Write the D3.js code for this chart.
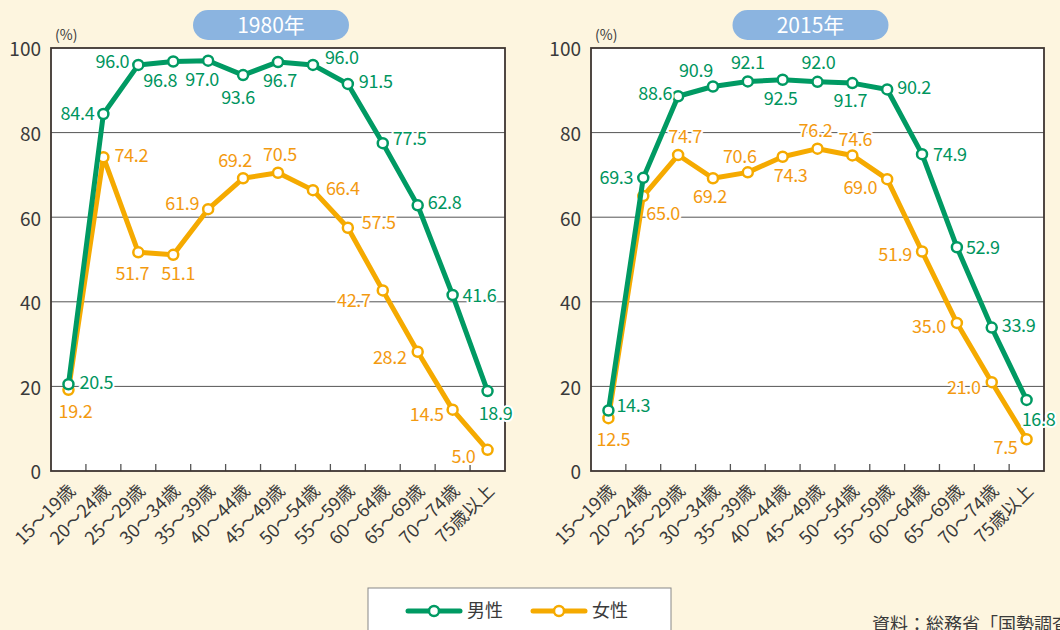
<!DOCTYPE html>
<html>
<head>
<meta charset="utf-8">
<script src="https://cdn.jsdelivr.net/npm/d3@7"></script>
<style>
    body { margin: 0; background: #fdf5df; }
    svg text { font-family: "Noto Sans CJK JP", "Noto Sans", sans-serif; }
</style>
</head>
<body>
<div id="chart"></div>
<script>
// age groups, shared by both panels
const ageGroups = ["15〜19歳", "20〜24歳", "25〜29歳", "30〜34歳", "35〜39歳", "40〜44歳",
    "45〜49歳", "50〜54歳", "55〜59歳", "60〜64歳", "65〜69歳", "70〜74歳", "75歳以上"];
const yTicks = [0, 20, 40, 60, 80, 100];
const years = ["1980年", "2015年"];
const seriesNames = ["男性", "女性"];

const male1980 = [20.5, 84.4, 96.0, 96.8, 97.0, 93.6, 96.7, 96.0, 91.5, 77.5, 62.8, 41.6, 18.9];
const female1980 = [19.2, 74.2, 51.7, 51.1, 61.9, 69.2, 70.5, 66.4, 57.5, 42.7, 28.2, 14.5, 5.0];
const male2015 = [14.3, 69.3, 88.6, 90.9, 92.1, 92.5, 92.0, 91.7, 90.2, 74.9, 52.9, 33.9, 16.8];
const female2015 = [12.5, 65.0, 74.7, 69.2, 70.6, 74.3, 76.2, 74.6, 69.0, 51.9, 35.0, 21.0, 7.5];

const sourceNote = "資料：総務省「国勢調査」";

// label placement per point: [dx, dy, anchor]  (s=start, m=middle, e=end)
const lblMale1980 = [[11,-2,"s"],[-9,0,"e"],[-9,-3,"e"],[-13,19,"m"],[-6,19,"m"],[-5,22,"m"],[2,19,"m"],
    [12,-7,"s"],[11,-2,"s"],[10,-5,"s"],[10,-3,"s"],[10,0,"s"],[8,22,"m"]];
const lblFemale1980 = [[7,22,"m"],[11,-2,"s"],[-6,21,"m"],[5,19,"m"],[-9,-6,"e"],[-8,-18,"m"],[2,-18,"m"],
    [13,-2,"s"],[14,-5,"s"],[-12,10,"e"],[-11,6,"e"],[-9,5,"e"],[-12,7,"e"]];
const lblMale2015 = [[8,-5,"s"],[-10,0,"e"],[-6,-3,"e"],[-17,-16,"m"],[0,-19,"m"],[-2,19,"m"],[1,-19,"m"],
    [-2,17,"m"],[10,-2,"s"],[11,0,"s"],[9,0,"s"],[10,-2,"s"],[12,20,"m"]];
const lblFemale2015 = [[5,21,"m"],[3,17,"s"],[7,-18,"m"],[-3,18,"m"],[-8,-16,"m"],[8,19,"m"],[-2,-18,"m"],
    [3,-16,"m"],[-10,8,"e"],[-10,3,"e"],[-11,4,"e"],[-11,5,"e"],[-9,8,"e"]];

const GREEN = "#009a63", ORANGE = "#f5aa00";
const GREEN_TXT = "#00955e", ORANGE_TXT = "#f39a10";
const anchors = {s: "start", m: "middle", e: "end"};

const svg = d3.select("#chart").append("svg")
    .attr("width", 1060).attr("height", 630);

svg.append("rect").attr("width", 1060).attr("height", 630).attr("fill", "#fdf5df");

function drawPanel(left, right, year, male, female, lblM, lblF) {
    const top = 48, bottom = 471;
    const x = d3.scaleBand().domain(ageGroups).range([left, right]).padding(0);
    const y = d3.scaleLinear().domain([0, 100]).range([bottom, top]);
    const cx = d => x(d) + x.bandwidth() / 2;
    const g = svg.append("g");

    // title pill
    const mid = (left + right) / 2;
    g.append("rect")
        .attr("x", mid - 85).attr("y", 10).attr("width", 156).attr("height", 30)
        .attr("rx", 15).attr("fill", "#8bb4e0");
    g.append("text")
        .attr("x", mid - 7).attr("y", 25).attr("dy", "0.36em")
        .attr("text-anchor", "middle").attr("fill", "#fff")
        .attr("font-size", 21).text(year);

    g.append("text")
        .attr("x", left + 4).attr("y", 35).attr("dy", "0.35em")
        .attr("font-size", 14).attr("fill", "#3a3a3a").text("(%)");

    // plot area
    g.append("rect")
        .attr("x", left).attr("y", top)
        .attr("width", right - left).attr("height", bottom - top)
        .attr("fill", "#fff");

    g.selectAll(".grid").data(yTicks.slice(1, -1)).join("line")
        .attr("x1", left).attr("x2", right)
        .attr("y1", d => y(d)).attr("y2", d => y(d))
        .attr("stroke", "#555").attr("stroke-width", 1);

    // inner ticks at band boundaries
    g.selectAll(".tick-in").data(ageGroups.slice(1)).join("line")
        .attr("x1", d => x(d)).attr("x2", d => x(d))
        .attr("y1", bottom).attr("y2", bottom - 7)
        .attr("stroke", "#555").attr("stroke-width", 1.3);

    g.append("rect")
        .attr("x", left).attr("y", top)
        .attr("width", right - left).attr("height", bottom - top)
        .attr("fill", "none").attr("stroke", "#3d3531").attr("stroke-width", 1.8);

    // y axis labels
    const yAxis = g.append("g")
        .attr("transform", `translate(${left},0)`)
        .call(d3.axisLeft(y).tickValues(yTicks).tickSize(0).tickPadding(10));
    yAxis.select(".domain").remove();
    yAxis.selectAll("text")
        .attr("font-size", 19).attr("fill", "#3a3a3a")
        .attr("dy", "0.42em");

    // x labels
    g.selectAll(".xl").data(ageGroups).join("text")
        .attr("transform", d => `translate(${cx(d) + 8},492) rotate(-45)`)
        .attr("text-anchor", "end")
        .attr("font-size", 18).attr("fill", "#3a3a3a")
        .text(d => d);

    const line = d3.line()
        .x((d, i) => cx(ageGroups[i]))
        .y(d => y(d));

    const series = [
        {vals: female, col: ORANGE, txt: ORANGE_TXT, lbl: lblF},
        {vals: male, col: GREEN, txt: GREEN_TXT, lbl: lblM}
    ];
    series.forEach(function(s) {
        g.append("path")
            .attr("d", line(s.vals))
            .attr("fill", "none").attr("stroke", s.col)
            .attr("stroke-width", 5).attr("stroke-linejoin", "round");
        g.selectAll(null).data(s.vals).join("circle")
            .attr("cx", (d, i) => cx(ageGroups[i])).attr("cy", d => y(d))
            .attr("r", 5).attr("fill", "#fff")
            .attr("stroke", s.col).attr("stroke-width", 2.5);
    });
    series.forEach(function(s) {
        g.selectAll(null).data(s.vals).join("text")
            .attr("x", (d, i) => cx(ageGroups[i]) + s.lbl[i][0])
            .attr("y", (d, i) => y(d) + s.lbl[i][1])
            .attr("dy", "0.36em")
            .attr("text-anchor", (d, i) => anchors[s.lbl[i][2]])
            .attr("font-size", 18).attr("letter-spacing", -0.3)
            .attr("fill", s.txt)
            .attr("stroke", "#fff").attr("stroke-width", 4)
            .attr("stroke-linejoin", "round").attr("paint-order", "stroke")
            .text(d => d.toFixed(1));
    });
}

drawPanel(51, 505, years[0], male1980, female1980, lblMale1980, lblFemale1980);
drawPanel(591, 1044, years[1], male2015, female2015, lblMale2015, lblFemale2015);

// legend
const lg = svg.append("g");
lg.append("rect")
    .attr("x", 368).attr("y", 588).attr("width", 303).attr("height", 60)
    .attr("fill", "#fff").attr("stroke", "#888").attr("stroke-width", 1);
[[408, GREEN], [533, ORANGE]].forEach(function(p, i) {
    lg.append("line")
        .attr("x1", p[0]).attr("x2", p[0] + 52).attr("y1", 611).attr("y2", 611)
        .attr("stroke", p[1]).attr("stroke-width", 5).attr("stroke-linecap", "round");
    lg.append("circle")
        .attr("cx", p[0] + 26).attr("cy", 611).attr("r", 5)
        .attr("fill", "#fff").attr("stroke", p[1]).attr("stroke-width", 2.5);
    lg.append("text")
        .attr("x", p[0] + 59).attr("y", 611).attr("dy", "0.36em")
        .attr("font-size", 18).attr("fill", "#3a3a3a")
        .text(seriesNames[i]);
});

// the source note runs off the right edge, as in the original
svg.append("text")
    .attr("x", 872).attr("y", 631)
    .attr("font-size", 18).attr("fill", "#3a3a3a")
    .text(sourceNote);
</script>
</body>
</html>
